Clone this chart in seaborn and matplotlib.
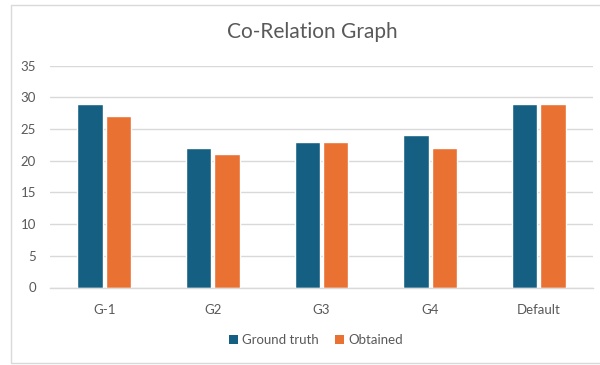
import matplotlib
matplotlib.use("Agg")
import matplotlib.pyplot as plt
import seaborn as sns
import pandas as pd
from matplotlib.patches import Rectangle, Patch

categories = ["G-1", "G2", "G3", "G4", "Default"]
ground_truth = [29, 22, 23, 24, 29]
obtained = [27, 21, 23, 22, 29]
series_names = ["Ground truth", "Obtained"]
y_ticks = [0, 5, 10, 15, 20, 25, 30, 35]

df = pd.DataFrame({
    "Group": categories * 2,
    "Value": ground_truth + obtained,
    "Series": [series_names[0]] * len(categories) + [series_names[1]] * len(categories),
})

sns.set_style("white")
plt.rcParams["font.family"] = ["Lato", "DejaVu Sans"]

colors = {"Ground truth": "#156082", "Obtained": "#E97132"}
text_color = "#595959"
grid_color = "#D9D9D9"

fig = plt.figure(figsize=(6.0, 3.65), dpi=100)
ax = fig.add_axes([50 / 600, 1 - 287.5 / 365, 543 / 600, (287.5 - 65.7) / 365])

sns.barplot(data=df, x="Group", y="Value", hue="Series", order=categories,
            hue_order=series_names, palette=colors, width=0.52, gap=0.1,
            saturation=1, legend=False, ax=ax)

ax.set_ylim(0, 35)
ax.set_yticks(y_ticks)
ax.set_xlim(-0.5, len(categories) - 0.5)
ax.yaxis.grid(True, color=grid_color, linewidth=1.0)
ax.set_axisbelow(True)
for side in ["top", "right", "left"]:
    ax.spines[side].set_visible(False)
ax.spines["bottom"].set_color(grid_color)
ax.spines["bottom"].set_linewidth(1.0)
ax.set_xlabel("")
ax.set_ylabel("")
ax.tick_params(axis="both", length=0, labelsize=9.5, colors=text_color)
ax.tick_params(axis="x", pad=12)
ax.tick_params(axis="y", pad=10)

fig.text(312 / 600, 1 - 32 / 365, "Co-Relation Graph", ha="center", va="center",
         fontsize=15, color=text_color)

handles = [Patch(facecolor=colors[s], edgecolor="none", label=s) for s in series_names]
fig.legend(handles=handles, loc="center", bbox_to_anchor=(316 / 600, 1 - 340 / 365),
           ncol=2, frameon=False, fontsize=9.5, handlelength=0.7, handleheight=0.7,
           handletextpad=0.3, columnspacing=1.2, labelcolor=text_color)

fig.patches.append(Rectangle((11 / 600, 1 - 363 / 365), 1.0, (363 - 5) / 365,
                             transform=fig.transFigure, fill=False,
                             edgecolor=grid_color, linewidth=1.0))

fig.savefig("out.png", dpi=100)
